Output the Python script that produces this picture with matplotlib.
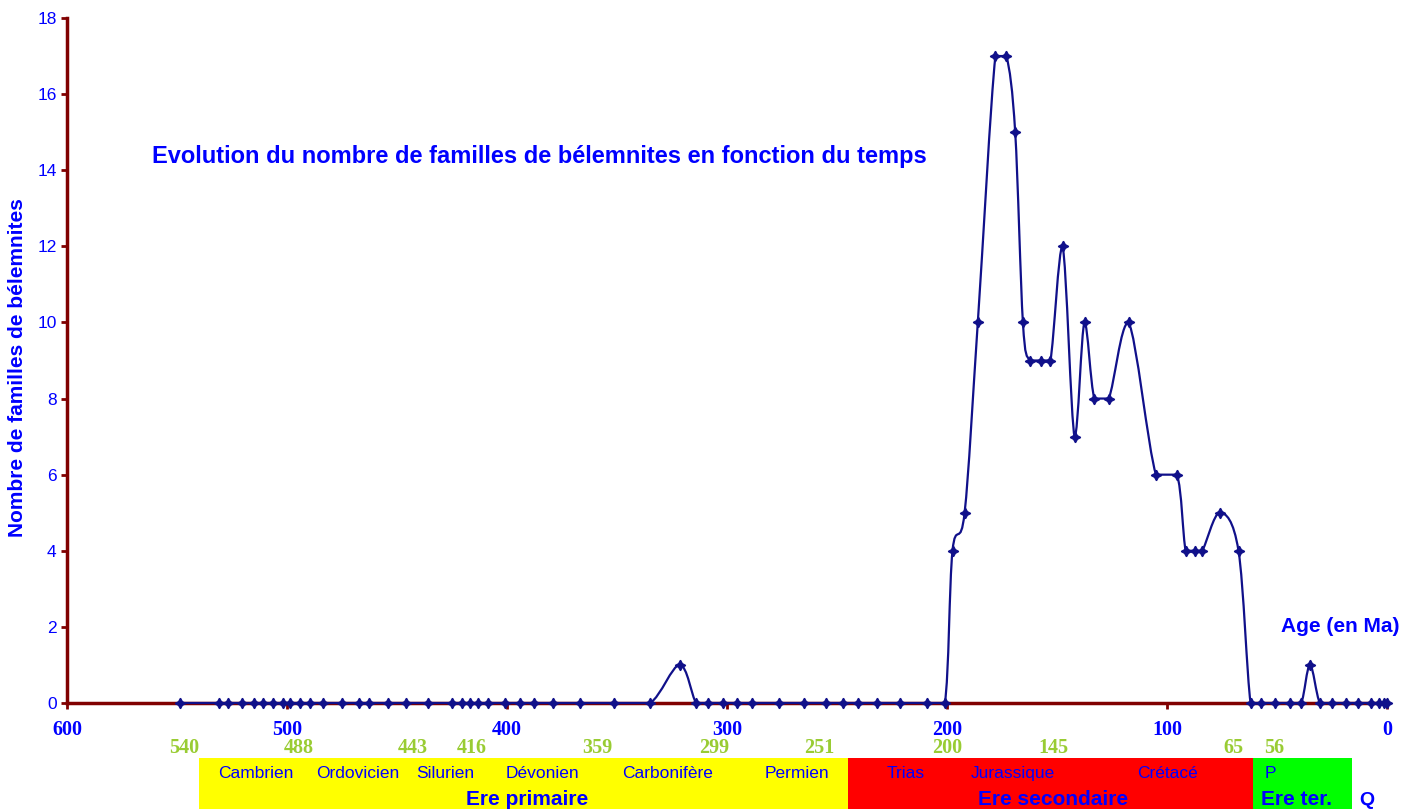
import numpy as np
import matplotlib
matplotlib.use("Agg")
import matplotlib.pyplot as plt
from matplotlib.path import Path
from matplotlib.patches import PathPatch
from matplotlib.transforms import blended_transform_factory

# age (Ma) and number of belemnite families
ages = [548.5, 531, 527, 520.5, 515, 511, 506.5, 502, 498.5, 494, 489.5, 483.5,
        475, 467.5, 462.5, 454, 446, 436, 425, 420.5, 417, 413, 408.5, 401,
        394, 387.5, 379, 367, 351.5, 335, 321.5, 314, 308.5, 302, 295.5, 288.5,
        276.5, 265, 255, 247.5, 240.5, 232, 221.5, 209, 201, 197.5, 192, 186,
        178, 173, 169, 165.5, 162.5, 157.5, 153, 147.5, 142, 137.5, 133, 126.5,
        117.5, 105, 95.5, 91.5, 87.5, 84, 76, 67.5, 62, 57.5, 51, 44, 39, 35,
        30.5, 25, 18.5, 13, 7.5, 3.5, 1.5, 0]
families = [0] * 30 + [1] + [0] * 14 + [4, 5, 10, 17, 17, 15, 10, 9, 9, 9, 12,
            7, 10, 8, 8, 10, 6, 6, 4, 4, 4, 5, 4] + [0] * 5 + [1] + [0] * 8

x_ticks = [600, 500, 400, 300, 200, 100, 0]
y_ticks = list(range(0, 19, 2))
boundary_ages = [540, 488, 443, 416, 359, 299, 251, 200, 145, 65, 56]
boundary_ha = ['right', 'right', 'center', 'center', 'center', 'right',
               'right', 'center', 'right', 'right', 'left']

periods = ['Cambrien', 'Ordovicien', 'Silurien', 'Dévonien', 'Carbonifère',
           'Permien', 'Trias', 'Jurassique', 'Crétacé', 'P']
period_x = [514, 468, 428, 384, 327, 268, 219, 170, 100, 53]

eras = ['Ere primaire', 'Ere secondaire', 'Ere ter.']
era_start = [540, 245, 61]
era_end = [245, 61, 16]
era_colors = ['#ffff00', '#ff0000', '#00ff00']
era_x = [391, 152, 41]

BLUE = '#0000ff'
DARKRED = '#800000'
NAVY = '#10108a'
GREEN = '#99cc33'


def smooth_path(x, y):
    # smoothed line like excel: bezier segments, control points kept
    # between the two ends of each segment so peaks stay flat
    pts = np.column_stack([x, y]).astype(float)
    n = len(pts)
    verts = [pts[0]]
    codes = [Path.MOVETO]
    for i in range(n - 1):
        p0 = pts[max(i - 1, 0)]
        p1 = pts[i]
        p2 = pts[i + 1]
        p3 = pts[min(i + 2, n - 1)]
        c1 = p1 + (p2 - p0) / 6
        c2 = p2 - (p3 - p1) / 6
        lo, hi = min(p1[1], p2[1]), max(p1[1], p2[1])
        c1[1] = np.clip(c1[1], lo, hi)
        c2[1] = np.clip(c2[1], lo, hi)
        verts += [c1, c2, p2]
        codes += [Path.CURVE4] * 3
    return Path(verts, codes)


W, H = 1418, 809
fig = plt.figure(figsize=(W / 100, H / 100), dpi=100)
ax = fig.add_axes([67 / W, 1 - 703 / H, 1320 / W, 685 / H])
ax.set_xlim(600, 0)
ax.set_ylim(0, 18)

for s in ['top', 'right']:
    ax.spines[s].set_visible(False)
for s in ['left', 'bottom']:
    ax.spines[s].set_color(DARKRED)
    ax.spines[s].set_linewidth(2.5)

ax.set_xticks(x_ticks)
ax.set_yticks(y_ticks)
ax.tick_params(axis='both', colors=DARKRED, length=4, width=2)
ax.tick_params(axis='x', pad=8)
for lab in ax.get_xticklabels():
    lab.set_color(BLUE)
    lab.set_fontfamily('Liberation Serif')
    lab.set_fontweight('bold')
    lab.set_fontsize(14.5)
for lab in ax.get_yticklabels():
    lab.set_color(BLUE)
    lab.set_fontfamily('Liberation Sans')
    lab.set_fontsize(12.5)

patch = PathPatch(smooth_path(ages, families), facecolor='none', edgecolor=NAVY,
                  lw=1.6, zorder=5, clip_on=False)
ax.add_patch(patch)
ax.plot(ages, families, ls='none', marker=(4, 1, 0), ms=7.5, color=NAVY,
        zorder=6, clip_on=False)

fig.text(152 / W, 1 - 157 / H,
         'Evolution du nombre de familles de bélemnites en fonction du temps',
         color=BLUE, fontsize=17, fontweight='bold', family='Liberation Sans',
         ha='left', va='center')
fig.text(18 / W, 1 - 368 / H, 'Nombre de familles de bélemnites', color=BLUE,
         fontsize=15, fontweight='bold', family='Liberation Sans',
         rotation=90, ha='center', va='center')
fig.text(1340 / W, 1 - 627 / H, 'Age (en Ma)', color=BLUE, fontsize=15,
         fontweight='bold', family='Liberation Sans', ha='center', va='center')

# era bands underneath the axis
band = fig.add_axes([67 / W, 0, 1320 / W, 51 / H], sharex=ax)
band.set_ylim(0, 1)
band.axis('off')
for a0, a1, c in zip(era_start, era_end, era_colors):
    band.axvspan(a0, a1, color=c, lw=0)
ax.set_xlim(600, 0)

tr = blended_transform_factory(ax.transData, fig.transFigure)
for a, ha in zip(boundary_ages, boundary_ha):
    fig.text(a, 1 - 748 / H, str(a), transform=tr, color=GREEN, fontsize=14.5,
             fontweight='bold', family='Liberation Serif', ha=ha, va='center')
for name, a in zip(periods, period_x):
    fig.text(a, 1 - 778 / H, name, transform=tr, color=BLUE, fontsize=12.5,
             family='Liberation Sans', ha='center', va='baseline')
for name, a in zip(eras, era_x):
    fig.text(a, 1 - 805 / H, name, transform=tr, color=BLUE, fontsize=15,
             fontweight='bold', family='Liberation Sans', ha='center', va='baseline')
fig.text(9, 1 - 805 / H, 'Q', transform=tr, color=BLUE, fontsize=14,
         fontweight='bold', family='Liberation Sans', ha='center', va='baseline')

fig.savefig('out.png', dpi=100)
